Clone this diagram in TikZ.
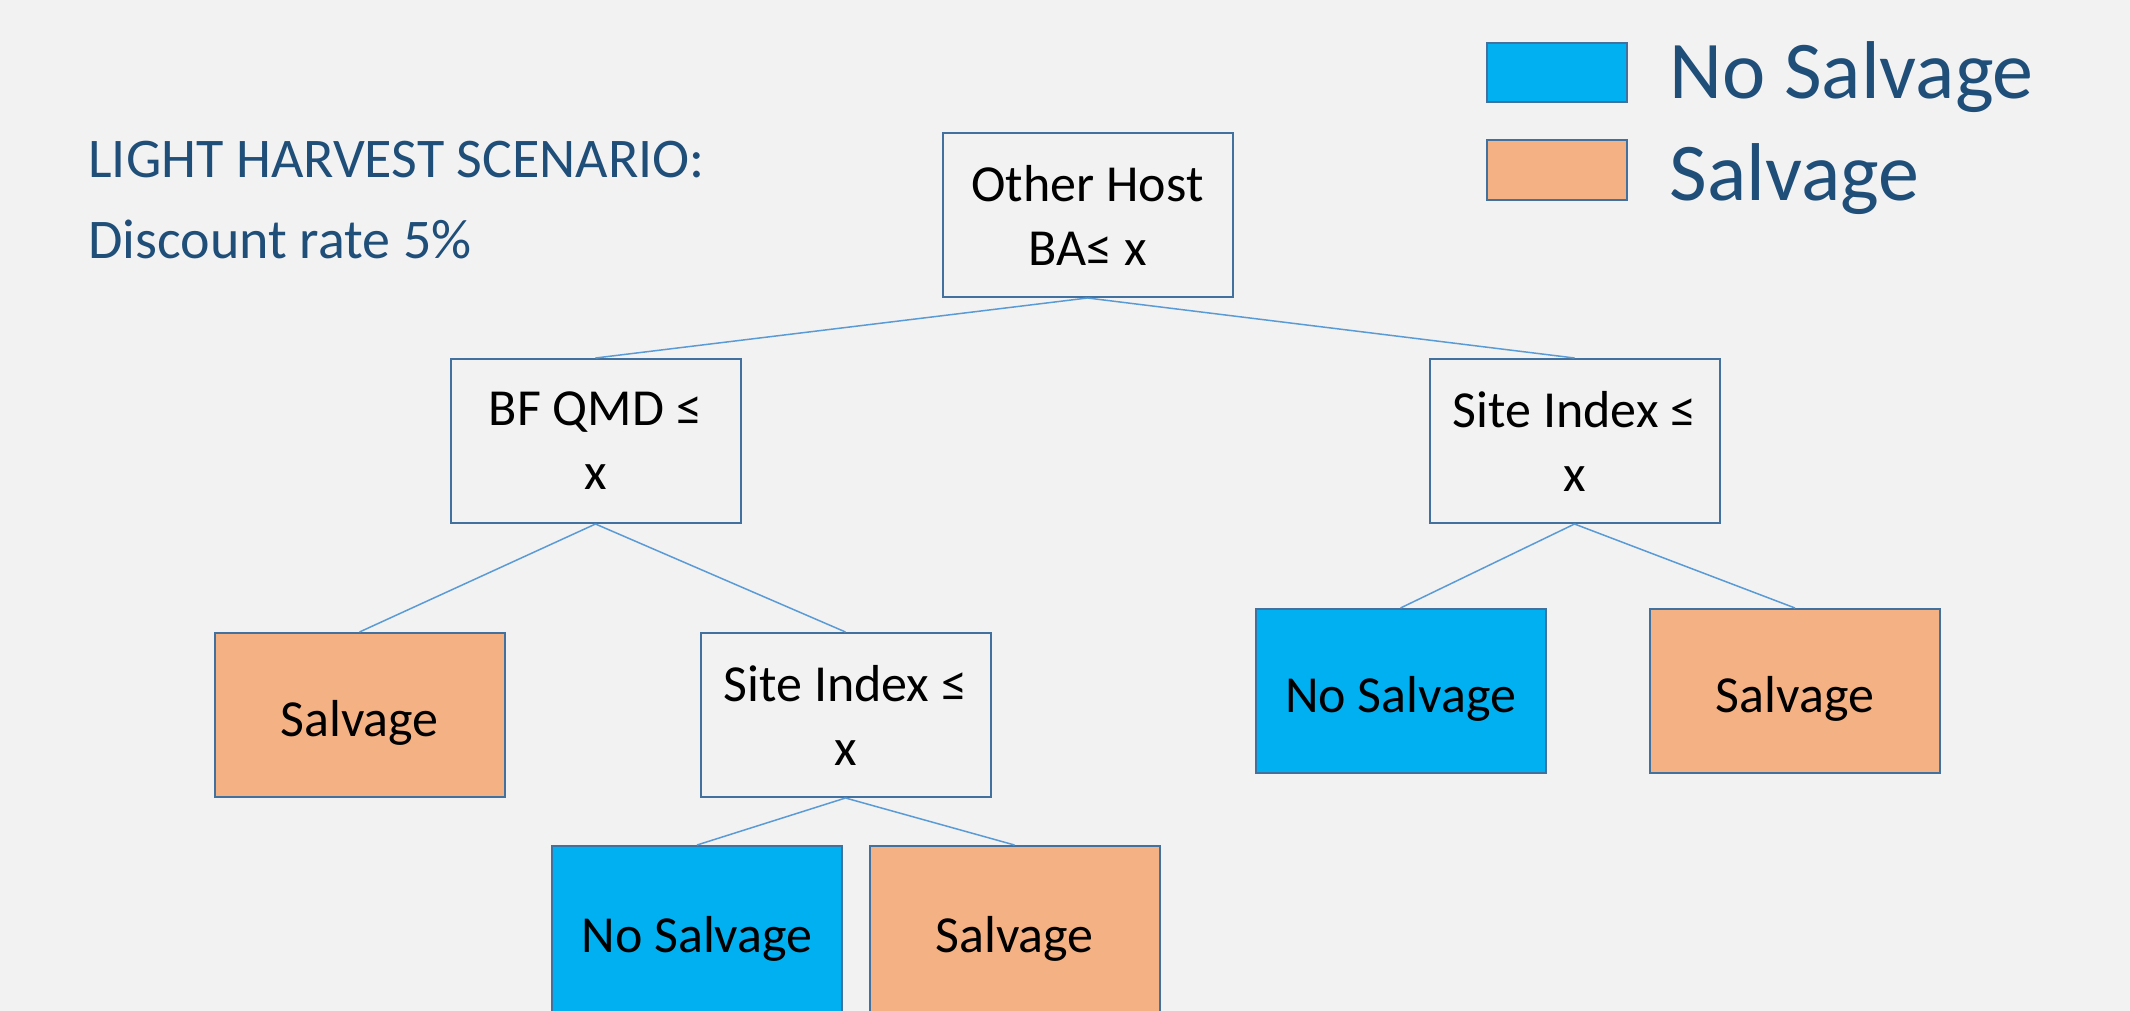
\documentclass[tikz,border=0pt]{standalone}
\usepackage{fontspec}
\setmainfont{Carlito}
\definecolor{bg}{HTML}{F2F2F2}
\definecolor{boxline}{HTML}{41719C}
\definecolor{linkblue}{HTML}{5B9BD5}
\definecolor{cyanfill}{HTML}{00B0F0}
\definecolor{peach}{HTML}{F4B183}
\definecolor{navy}{HTML}{1F4E79}
\begin{document}
\begin{tikzpicture}[x=0.5pt,y=-0.5pt,
  box/.style={draw=boxline, line width=1pt, minimum width=145pt, minimum height=82pt,
    inner sep=2pt, align=center, text=black, font=\fontsize{26}{32}\selectfont},
  split/.style={box, fill=bg},
  leaf/.style={box, text height=27pt, text depth=5.5pt},
  nosalv/.style={leaf, fill=cyanfill},
  salv/.style={leaf, fill=peach},
  tall/.style={minimum height=85pt},
  link/.style={draw=linkblue, line width=0.75pt},
  heading/.style={anchor=base west, inner sep=0pt, text=navy, font=\fontsize{28}{34}\selectfont},
  legendtext/.style={anchor=base west, inner sep=0pt, text=navy, font=\fontsize{41}{49}\selectfont},
  swatch/.style={draw=boxline, line width=1pt, minimum width=70pt, inner sep=0pt}
]
% canvas
\useasboundingbox[fill=bg] (0,0) rectangle (2130,1011);

% title
\node[heading] (title) at (88,177) {LIGHT HARVEST SCENARIO:};
\node[heading] (rate) at (88,258) {Discount rate 5\%};

% legend
\node[swatch, fill=cyanfill, minimum height=29.5pt] (keyns) at (1557,72.5) {};
\node[swatch, fill=peach, minimum height=30pt] (keys) at (1557,170) {};
\node[legendtext] (keynstext) at (1669,99) {No Salvage};
\node[legendtext] (keystext) at (1669,200) {Salvage};

% decision tree
\node[split] (root) at (1087.5,215) {Other Host\\BA≤ x};
\node[split] (qmd) at (595.5,441) {BF QMD ≤\\x};
\node[split] (siR) at (1574.5,441) {Site Index ≤\\x};
\node[salv] (leafA) at (359.5,715) {Salvage};
\node[split] (siM) at (845.5,715) {Site Index ≤\\x};
\node[nosalv, tall] (leafB) at (697,931) {No Salvage};
\node[salv, tall] (leafC) at (1014.5,931) {Salvage};
\node[nosalv] (leafD) at (1400.5,691) {No Salvage};
\node[salv] (leafE) at (1795,691) {Salvage};

% branches
\draw[link] (root.south) -- (qmd.north);
\draw[link] (root.south) -- (siR.north);
\draw[link] (qmd.south) -- (leafA.north);
\draw[link] (qmd.south) -- (siM.north);
\draw[link] (siM.south) -- (leafB.north);
\draw[link] (siM.south) -- (leafC.north);
\draw[link] (siR.south) -- (leafD.north);
\draw[link] (siR.south) -- (leafE.north);
\end{tikzpicture}
\end{document}
